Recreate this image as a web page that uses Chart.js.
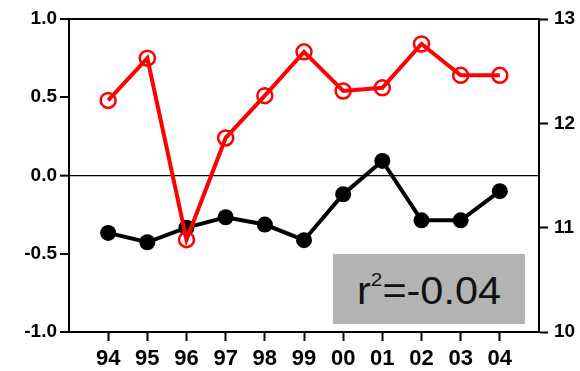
<!DOCTYPE html>
<html>
<head>
<meta charset="utf-8">
<script src="https://cdn.jsdelivr.net/npm/chart.js@4/dist/chart.umd.min.js"></script>
<style>
  html, body { margin: 0; padding: 0; background: #fff; }
  #wrap { position: relative; width: 580px; height: 371px; }
  #r2box {
    position: absolute; left: 333px; top: 254px; width: 192px; height: 70px;
    background: #b3b3b3; color: #111;
    font-family: "Liberation Sans", Arial, sans-serif; font-size: 38px;
    display: flex; align-items: center; justify-content: center;
    line-height: 1;
  }
  #r2box span.txt { display: inline-block; transform: scaleX(1.09); position: relative; top: 2px; }
  #r2box sup { font-size: 0.5em; position: relative; top: -0.12em; vertical-align: top; }
</style>
</head>
<body>
<div id="wrap">
  <canvas id="chart" width="580" height="371"></canvas>
  <div id="r2box"><span class="txt">r<sup>2</sup>=-0.04</span></div>
</div>
<script>
// years along the bottom axis
const years = ['94', '95', '96', '97', '98', '99', '00', '01', '02', '03', '04'];
// red open circles, left axis
const redSeries = [0.48, 0.75, -0.41, 0.24, 0.51, 0.79, 0.54, 0.56, 0.84, 0.64, 0.64];
// black filled circles, right axis
const blackSeries = [10.95, 10.86, 11.00, 11.10, 11.03, 10.88, 11.32, 11.64, 11.07, 11.07, 11.35];
const leftTicks = [-1, -0.5, 0, 0.5, 1];
const rightTicks = [10, 11, 12, 13];

const FONT = '"Liberation Sans", Arial, sans-serif';

const toPoints = arr => arr.map((v, i) => ({ x: i + 1, y: v }));

// top edge of the plot box
const framePlugin = {
  id: 'frame',
  beforeDatasetsDraw(chart) {
    const { ctx, chartArea: a } = chart;
    ctx.save();
    ctx.strokeStyle = '#000';
    ctx.lineWidth = 2;
    ctx.beginPath();
    ctx.moveTo(a.left - 1, a.top);
    ctx.lineTo(a.right + 1, a.top);
    ctx.stroke();
    ctx.restore();
  }
};

new Chart(document.getElementById('chart'), {
  type: 'line',
  data: {
    datasets: [
      {
        data: toPoints(redSeries),
        yAxisID: 'yL',
        borderColor: '#ff0000',
        borderWidth: 4,
        pointRadius: 7.5,
        pointBorderWidth: 2.5,
        pointBorderColor: '#ff0000',
        pointBackgroundColor: 'rgba(255,255,255,0)',
        tension: 0
      },
      {
        data: toPoints(blackSeries),
        yAxisID: 'yR',
        borderColor: '#000',
        borderWidth: 4,
        pointRadius: 8,
        pointBorderWidth: 0,
        pointBackgroundColor: '#000',
        tension: 0
      }
    ]
  },
  options: {
    responsive: false,
    animation: false,
    layout: { padding: { top: 19, left: 0, right: 0, bottom: 0 } },
    plugins: { legend: { display: false }, tooltip: { enabled: false } },
    scales: {
      x: {
        type: 'linear',
        min: 0,
        max: 12,
        afterBuildTicks: s => { s.ticks = years.map((_, i) => ({ value: i + 1 })); },
        afterFit: s => { s.height = 39; },
        ticks: {
          autoSkip: false,
          maxRotation: 0,
          padding: 5,
          color: '#000',
          font: { family: FONT, size: 22, weight: 'bold' },
          callback: v => years[v - 1]
        },
        grid: { drawOnChartArea: false, tickLength: 9, tickWidth: 2, tickColor: '#000' },
        border: { color: '#000', width: 2 }
      },
      yL: {
        position: 'left',
        min: -1,
        max: 1,
        afterBuildTicks: s => { s.ticks = leftTicks.map(v => ({ value: v })); },
        afterFit: s => { s.width = 69; },
        ticks: {
          padding: 3,
          color: '#000',
          font: { family: FONT, size: 19, weight: 'bold' },
          callback: v => v.toFixed(1)
        },
        grid: {
          drawOnChartArea: true,
          color: c => (c.tick && c.tick.value === 0 ? '#000' : 'rgba(0,0,0,0)'),
          lineWidth: c => (c.tick && c.tick.value === 0 ? 1.3 : 0),
          tickLength: 9,
          tickWidth: 2,
          tickColor: '#000'
        },
        border: { color: '#000', width: 2 }
      },
      yR: {
        position: 'right',
        min: 10,
        max: 13,
        afterBuildTicks: s => { s.ticks = rightTicks.map(v => ({ value: v })); },
        afterFit: s => { s.width = 41; },
        ticks: {
          padding: 6,
          color: '#000',
          font: { family: FONT, size: 19, weight: 'bold' }
        },
        grid: { drawOnChartArea: false, tickLength: 9, tickWidth: 2, tickColor: '#000' },
        border: { color: '#000', width: 2 }
      }
    }
  },
  plugins: [framePlugin]
});
</script>
</body>
</html>
